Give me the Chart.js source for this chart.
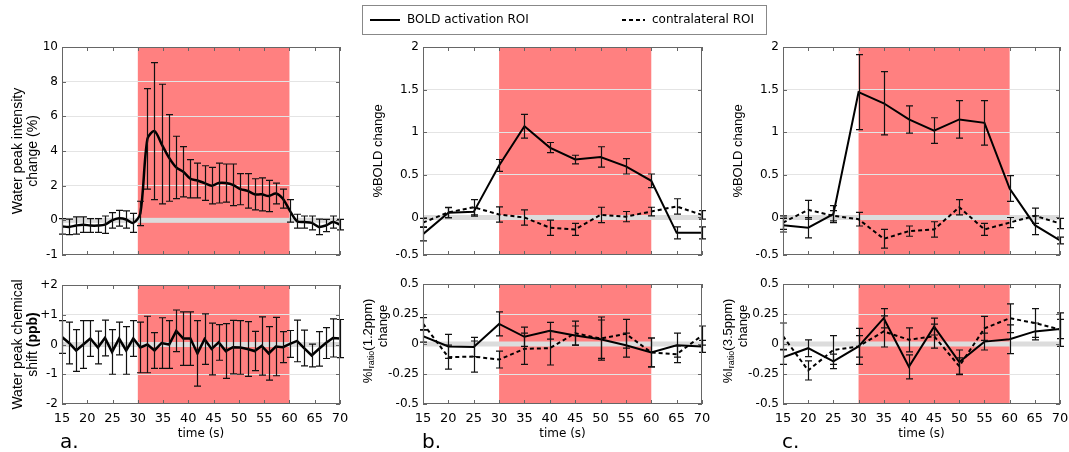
<!DOCTYPE html>
<html>
<head>
<meta charset="utf-8">
<script src="https://cdn.jsdelivr.net/npm/chart.js@4.4.1/dist/chart.umd.min.js"></script>
<style>
  html, body { margin: 0; padding: 0; background: #fff; width: 1069px; height: 452px; overflow: hidden; }
  canvas { position: absolute; }
</style>
</head>
<body>
<canvas id="aTop" width="350" height="265" style="left:0px;top:0px"></canvas>
<canvas id="aBot" width="350" height="187" style="left:0px;top:265px"></canvas>
<canvas id="bTop" width="420" height="265" style="left:355px;top:0px"></canvas>
<canvas id="bBot" width="355" height="187" style="left:355px;top:265px"></canvas>
<canvas id="cTop" width="354" height="265" style="left:715px;top:0px"></canvas>
<canvas id="cBot" width="354" height="187" style="left:715px;top:265px"></canvas>
<script>
// stimulus block (s)
const stim = [30, 60];
const xTicks = [15, 20, 25, 30, 35, 40, 45, 50, 55, 60, 65, 70];

// panel a: water peak, one sample every ~1.4 s
const tA = [15.0, 16.4, 17.8, 19.2, 20.6, 22.1, 23.5, 24.9, 26.3, 27.7, 29.1, 30.5, 31.9, 33.3, 34.7, 36.2, 37.6, 39.0, 40.4, 41.8,
            43.2, 44.6, 46.0, 47.4, 48.8, 50.3, 51.7, 53.1, 54.5, 55.9, 57.3, 58.7, 60.1, 61.5, 62.9, 64.4, 65.8, 67.2, 68.6, 70.0];
const waterInt = [-0.35, -0.38, -0.3, -0.25, -0.3, -0.3, -0.25, 0.0, 0.12, 0.05, -0.15, 0.4, 4.7, 5.15, 4.4, 3.6, 3.05, 2.8, 2.4, 2.3,
                  2.15, 2.0, 2.15, 2.15, 2.05, 1.8, 1.7, 1.5, 1.5, 1.4, 1.55, 1.25, 0.55, -0.05, -0.1, -0.15, -0.38, -0.3, -0.1, -0.25];
const waterIntErr = [0.45, 0.45, 0.5, 0.45, 0.4, 0.4, 0.5, 0.45, 0.45, 0.5, 0.55, 0.7, 2.9, 3.95, 3.45, 2.5, 1.8, 1.45, 1.1, 1.0,
                     1.0, 1.05, 1.15, 1.1, 1.2, 0.9, 1.0, 0.9, 0.95, 0.9, 0.6, 0.55, 0.65, 0.4, 0.35, 0.4, 0.45, 0.35, 0.35, 0.3];
const waterShift = [0.25, 0.05, -0.2, 0.0, 0.2, -0.1, 0.22, -0.25, 0.2, -0.2, 0.2, -0.1, 0.0, -0.2, 0.05, 0.0, 0.46, 0.2, 0.2, -0.3,
                    0.18, -0.15, 0.07, -0.22, -0.09, -0.1, -0.15, -0.22, -0.05, -0.3, -0.07, -0.09, 0.02, 0.12, -0.12, -0.37, -0.15, 0.05, 0.22, 0.2];
const waterShiftErr = [0.55, 0.7, 0.7, 0.8, 0.6, 0.55, 0.6, 0.75, 0.55, 0.8, 0.6, 0.85, 0.95, 0.6, 0.85, 0.8, 0.7, 0.9, 0.9, 1.1,
                       0.85, 0.87, 0.6, 0.92, 0.9, 0.9, 0.92, 0.66, 0.98, 0.9, 0.98, 0.52, 0.45, 0.7, 0.6, 0.38, 0.58, 0.52, 0.64, 0.64];

// panels b and c: 5 s samples
const t5 = [15, 20, 25, 30, 35, 40, 45, 50, 55, 60, 65, 70];
const boldB = [-0.195, 0.055, 0.066, 0.61, 1.07, 0.82, 0.68, 0.71, 0.6, 0.43, -0.18, -0.18];
const boldBErr = [0.08, 0.06, 0.05, 0.07, 0.14, 0.06, 0.05, 0.12, 0.09, 0.08, 0.07, 0.07];
const contraB = [-0.06, 0.06, 0.12, 0.035, 0.0, -0.12, -0.14, 0.03, 0.01, 0.07, 0.13, 0.03];
const contraBErr = [0.05, 0.06, 0.09, 0.09, 0.09, 0.09, 0.07, 0.09, 0.06, 0.05, 0.09, 0.05];
const boldC = [-0.09, -0.12, 0.04, 1.47, 1.34, 1.15, 1.02, 1.15, 1.11, 0.34, -0.09, -0.27];
const boldCErr = [0.08, 0.12, 0.1, 0.44, 0.37, 0.16, 0.15, 0.22, 0.26, 0.15, 0.11, 0.04];
const contraC = [-0.06, 0.09, 0.02, -0.02, -0.25, -0.16, -0.14, 0.12, -0.14, -0.06, 0.02, -0.07];
const contraCErr = [0.08, 0.11, 0.06, 0.08, 0.11, 0.06, 0.09, 0.09, 0.07, 0.06, 0.09, 0.06];

const ratioB = [0.065, -0.02, -0.025, 0.167, 0.06, 0.11, 0.07, 0.04, -0.01, -0.07, -0.01, -0.02];
const ratioBErr = [0.05, 0.1, 0.08, 0.1, 0.08, 0.07, 0.08, 0.16, 0.1, 0.12, 0.1, 0.05];
const ratioContraB = [0.17, -0.11, -0.105, -0.13, -0.04, -0.035, 0.09, 0.045, 0.085, -0.07, -0.085, 0.07];
const ratioContraBErr = [0.05, 0.1, 0.13, 0.07, 0.13, 0.14, 0.1, 0.18, 0.12, 0.12, 0.07, 0.08];
const ratioC = [-0.11, -0.035, -0.145, -0.02, 0.215, -0.19, 0.145, -0.15, 0.02, 0.04, 0.105, 0.125];
const ratioCErr = [0.06, 0.07, 0.06, 0.09, 0.08, 0.1, 0.07, 0.1, 0.07, 0.12, 0.07, 0.08];
const ratioContraC = [0.065, -0.22, -0.05, -0.02, 0.105, 0.035, 0.065, -0.185, 0.13, 0.215, 0.175, 0.12];
const ratioContraCErr = [0.11, 0.08, 0.12, 0.15, 0.13, 0.1, 0.1, 0.07, 0.1, 0.12, 0.12, 0.14];

// y ticks and their printed labels (as in the original figure)
const yTicksTopA = [-2, 0, 2, 4, 6, 8, 10];
const yLabelsTopA = ['-1', '0', '2', '4', '6', '8', '10'];
const yTicksBotA = [-2, -1, 0, 1, 2];
const yLabelsBotA = ['-2', '-1', '0', '+1', '+2'];
const yTicksBold = [-0.44, 0, 0.5, 1, 1.5, 2];
const yLabelsBold = ['-0.5', '0', '0.5', '1', '1.5', '2'];
const yTicksRatio = [-0.5, -0.25, 0, 0.25, 0.5];
const yLabelsRatio = ['-0.5', '-0.25', '0', '0.25', '0.5'];

const $ = (id) => document.getElementById(id);
Chart.defaults.font.family = '"DejaVu Sans", sans-serif';
Chart.defaults.color = '#000';

function rotText(ctx, cx, cy, segs, size) {
  const fontOf = (s) => (s.bold ? 'bold ' : '') + (s.sub ? Math.round(size * 0.72) : size) + 'px "Liberation Sans", Arial, sans-serif';
  ctx.save();
  ctx.translate(cx, cy);
  ctx.rotate(-Math.PI / 2);
  const ws = segs.map(s => { ctx.font = fontOf(s); return ctx.measureText(s.t).width; });
  let x0 = -ws.reduce((a, b) => a + b, 0) / 2;
  ctx.textBaseline = 'middle';
  ctx.textAlign = 'left';
  ctx.fillStyle = '#000';
  segs.forEach((s, i) => {
    ctx.font = fontOf(s);
    ctx.fillText(s.t, x0, s.sub ? size * 0.3 : 0);
    x0 += ws[i];
  });
  ctx.restore();
}

const decor = {
  id: 'decor',
  beforeDraw(chart) {
    const { ctx, chartArea: a, scales: { x } } = chart;
    const x1 = x.getPixelForValue(stim[0]), x2 = x.getPixelForValue(stim[1]);
    ctx.save();
    ctx.fillStyle = '#ff8080';
    ctx.fillRect(x1, a.top, x2 - x1, a.bottom - a.top);
    ctx.restore();
  },
  beforeDatasetsDraw(chart) {
    const { ctx, chartArea: a, scales: { y } } = chart;
    const y0 = y.getPixelForValue(0);
    ctx.save();
    ctx.fillStyle = '#dcdcdc';
    ctx.fillRect(a.left, y0 - 2.5, a.right - a.left, 5);
    ctx.restore();
  },
  afterDatasetsDraw(chart, args, o) {
    const { ctx, chartArea: a, scales: { x, y } } = chart;
    ctx.save();
    // error bars
    ctx.strokeStyle = '#111';
    ctx.lineWidth = 1.2;
    chart.data.datasets.forEach(ds => {
      ds.data.forEach((p, i) => {
        const e = ds.err[i];
        const px = Math.round(x.getPixelForValue(p.x)) + 0.5;
        const yt = y.getPixelForValue(p.y + e), yb = y.getPixelForValue(p.y - e);
        ctx.beginPath();
        ctx.moveTo(px, yt); ctx.lineTo(px, yb);
        ctx.moveTo(px - 3.5, yt); ctx.lineTo(px + 3.5, yt);
        ctx.moveTo(px - 3.5, yb); ctx.lineTo(px + 3.5, yb);
        ctx.stroke();
      });
    });
    // frame with inward ticks
    ctx.strokeStyle = '#666';
    ctx.lineWidth = 1;
    ctx.strokeRect(a.left + 0.5, a.top + 0.5, a.right - a.left - 1, a.bottom - a.top - 1);
    ctx.beginPath();
    x.ticks.forEach(t => {
      const px = Math.round(x.getPixelForValue(t.value)) + 0.5;
      ctx.moveTo(px, a.top); ctx.lineTo(px, a.top + 4);
      ctx.moveTo(px, a.bottom); ctx.lineTo(px, a.bottom - 4);
    });
    y.ticks.forEach(t => {
      const py = Math.round(y.getPixelForValue(t.value)) + 0.5;
      ctx.moveTo(a.left, py); ctx.lineTo(a.left + 4, py);
      ctx.moveTo(a.right, py); ctx.lineTo(a.right - 4, py);
    });
    ctx.stroke();
    // y axis title
    const cy = (a.top + a.bottom) / 2;
    o.ytitle.forEach(l => rotText(ctx, a.left + l.dx, cy + (l.dy || 0), l.segs, o.ysize));
    // panel letter
    if (o.letter) {
      ctx.font = '20px "DejaVu Sans", sans-serif';
      ctx.fillStyle = '#000';
      ctx.textAlign = 'left';
      ctx.textBaseline = 'alphabetic';
      ctx.fillText(o.letter, a.left + o.letterDx, a.bottom + 44);
    }
    // legend
    if (o.legend) {
      const L = o.legend;
      ctx.strokeStyle = '#888';
      ctx.strokeRect(L.x + 0.5, L.y + 0.5, L.w, L.h);
      ctx.font = '12px "DejaVu Sans", sans-serif';
      ctx.textBaseline = 'middle';
      ctx.fillStyle = '#000';
      const ly = L.y + L.h / 2 + 0.5;
      chart.data.datasets.forEach((ds, i) => {
        const it = L.items[i];
        ctx.strokeStyle = '#000';
        ctx.lineWidth = 2;
        ctx.setLineDash(ds.borderDash);
        ctx.beginPath();
        ctx.moveTo(it[0], ly); ctx.lineTo(it[1], ly);
        ctx.stroke();
        ctx.setLineDash([]);
        ctx.fillText(ds.label, it[1] + 7, ly);
      });
    }
    ctx.restore();
  }
};

function panel(id, c) {
  const n = c.yt.length;
  const datasets = c.series.map(s => ({
    label: s.label,
    data: s.t.map((t, i) => ({ x: t, y: s.y[i] })),
    err: s.err,
    borderColor: '#000',
    borderWidth: c.lw || 2,
    borderDash: s.dash ? [4, 3] : [],
    pointRadius: 0,
    tension: c.tension || 0,
    fill: false
  }));
  return new Chart($(id), {
    type: 'line',
    data: { datasets },
    options: {
      responsive: false,
      animation: false,
      devicePixelRatio: 1,
      layout: { padding: { top: c.pad[0], right: c.pad[1], bottom: 0, left: 0 } },
      plugins: { legend: { display: false }, tooltip: { enabled: false }, decor: c.decor },
      scales: {
        x: {
          type: 'linear', min: 15, max: 70,
          afterBuildTicks: s => { s.ticks = xTicks.map(v => ({ value: v })); },
          ticks: { display: c.xlab, font: { size: 13 }, color: '#000', padding: 7, maxRotation: 0, autoSkip: false },
          grid: { display: false, drawTicks: false },
          border: { display: false },
          title: { display: c.xlab, text: 'time (s)', font: { size: 12 }, color: '#000', padding: { top: 0, bottom: 11 } },
          afterFit: s => { s.height = c.xh; s.paddingLeft = 0; s.paddingRight = 0; }
        },
        y: {
          min: c.yt[0], max: c.yt[n - 1],
          afterBuildTicks: s => { s.ticks = c.yt.map(v => ({ value: v })); },
          ticks: { callback: (v, i) => c.yl[i], font: { size: 12 }, color: '#000', padding: 4, autoSkip: false },
          grid: {
            drawTicks: false,
            color: ctx => (ctx.index > 0 && ctx.index < n - 1 && ctx.tick && ctx.tick.value !== 0) ? '#e4e4e4' : 'rgba(0,0,0,0)'
          },
          border: { display: false },
          afterFit: s => { s.width = c.yw; s.paddingTop = 0; s.paddingBottom = 0; }
        }
      }
    },
    plugins: [decor]
  });
}

const T = (t) => [{ t }];

panel('aTop', {
  pad: [47, 10], yw: 62, xh: 10, xlab: false, lw: 2.5, tension: 0.3,
  yt: yTicksTopA, yl: yLabelsTopA,
  series: [{ label: 'BOLD activation ROI', t: tA, y: waterInt, err: waterIntErr }],
  decor: { ysize: 14, ytitle: [{ dx: -44, segs: T('Water peak intensity') }, { dx: -29, segs: T('change (%)') }] }
});
panel('aBot', {
  pad: [20, 10], yw: 62, xh: 48, xlab: true, lw: 2.5,
  yt: yTicksBotA, yl: yLabelsBotA,
  series: [{ label: 'BOLD activation ROI', t: tA, y: waterShift, err: waterShiftErr }],
  decor: {
    ysize: 14, letter: 'a.', letterDx: -2,
    ytitle: [{ dx: -43.5, segs: T('Water peak chemical') }, { dx: -28.5, segs: [{ t: 'shift ' }, { t: '(ppb)', bold: true }] }]
  }
});
panel('bTop', {
  pad: [47, 73], yw: 68, xh: 10, xlab: false,
  yt: yTicksBold, yl: yLabelsBold,
  series: [
    { label: 'BOLD activation ROI', t: t5, y: boldB, err: boldBErr },
    { label: 'contralateral ROI', t: t5, y: contraB, err: contraBErr, dash: true }
  ],
  decor: {
    ysize: 13, ytitle: [{ dx: -45, segs: T('%BOLD change') }],
    legend: { x: 7, y: 5, w: 404, h: 29, items: [[15, 45], [267, 290]] }
  }
});
panel('bBot', {
  pad: [19, 8], yw: 68, xh: 48, xlab: true,
  yt: yTicksRatio, yl: yLabelsRatio,
  series: [
    { label: 'BOLD activation ROI', t: t5, y: ratioB, err: ratioBErr },
    { label: 'contralateral ROI', t: t5, y: ratioContraB, err: ratioContraBErr, dash: true }
  ],
  decor: {
    ysize: 13, letter: 'b.', letterDx: -1,
    ytitle: [{ dx: -55, dy: -3, segs: [{ t: '%I' }, { t: 'ratio', sub: true }, { t: '(1.2ppm)' }] }, { dx: -39.5, dy: -18, segs: T('change') }]
  }
});
panel('cTop', {
  pad: [47, 9], yw: 68, xh: 10, xlab: false,
  yt: yTicksBold, yl: yLabelsBold,
  series: [
    { label: 'BOLD activation ROI', t: t5, y: boldC, err: boldCErr },
    { label: 'contralateral ROI', t: t5, y: contraC, err: contraCErr, dash: true }
  ],
  decor: { ysize: 13, ytitle: [{ dx: -45, segs: T('%BOLD change') }] }
});
panel('cBot', {
  pad: [19, 9], yw: 68, xh: 48, xlab: true,
  yt: yTicksRatio, yl: yLabelsRatio,
  series: [
    { label: 'BOLD activation ROI', t: t5, y: ratioC, err: ratioCErr },
    { label: 'contralateral ROI', t: t5, y: ratioContraC, err: ratioContraCErr, dash: true }
  ],
  decor: {
    ysize: 13, letter: 'c.', letterDx: -1,
    ytitle: [{ dx: -55, dy: -3, segs: [{ t: '%I' }, { t: 'ratio', sub: true }, { t: '(3.5ppm)' }] }, { dx: -39.5, dy: -18, segs: T('change') }]
  }
});
</script>
</body>
</html>
